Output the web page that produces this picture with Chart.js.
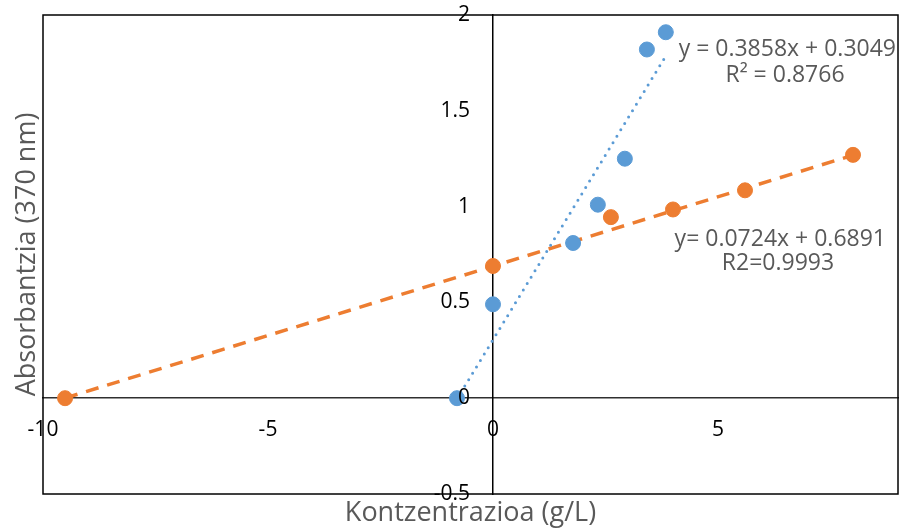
<!DOCTYPE html>
<html>
<head>
<meta charset="utf-8">
<title>Absorbantzia</title>
<script src="https://cdn.jsdelivr.net/npm/chart.js@4/dist/chart.umd.min.js"></script>
<style>
  html, body { margin: 0; padding: 0; background: #ffffff; overflow: hidden; }
  #wrap { width: 900px; height: 532px; position: relative; }
</style>
</head>
<body>
<div id="wrap"><canvas id="absorbanceChart"></canvas></div>
<script>
// Series data (concentration g/L vs absorbance at 370 nm)
const blueX = [-0.8, 0, 1.78, 2.33, 2.93, 3.42, 3.84];
const blueY = [0, 0.49, 0.81, 1.01, 1.25, 1.82, 1.91];
const orangeX = [-9.51, 0, 2.62, 4.0, 5.6, 8.0];
const orangeY = [0, 0.69, 0.945, 0.985, 1.085, 1.27];

// Trendline coefficients as printed on the chart
const blueFit = { slope: 0.3858, intercept: 0.3049 };
const orangeFit = { slope: 0.0724, intercept: 0.6891 };

const xTicks = [-10, -5, 0, 5];
const blueLabel = ['y = 0.3858x + 0.3049', 'R\u00b2 = 0.8766'];
const orangeLabel = ['y= 0.0724x + 0.6891', 'R2=0.9993'];
const xTitle = 'Kontzentrazioa (g/L)';
const yTitle = 'Absorbantzia (370 nm)';

const BLUE = '#5B9BD5';
const ORANGE = '#ED7D31';
const TEXT_GRAY = '#595959';
const FONT = '"Open Sans", "Noto Sans", sans-serif';
const PLOT_RIGHT = 898;
const Y_LABEL_GAP = 23;

function toPoints(xs, ys) {
  return xs.map((x, i) => ({ x: x, y: ys[i] }));
}

function trendPoints(xs, fit) {
  const lo = Math.min(...xs);
  const hi = Math.max(...xs);
  return [lo, hi].map(x => ({ x: x, y: fit.slope * x + fit.intercept }));
}

// Centered axes should not push the plot area inwards for their labels
function noScalePadding(scale) {
  scale.paddingTop = 0;
  scale.paddingBottom = 0;
  scale.paddingLeft = 0;
  scale.paddingRight = 0;
}

// Stretch the plot to the right edge; the layout keeps a few px free there
const stretchRight = {
  id: 'stretchRight',
  afterLayout(chart) {
    const area = chart.chartArea;
    area.right = PLOT_RIGHT;
    area.width = area.right - area.left;
    const x = chart.scales.x;
    x.right = PLOT_RIGHT;
    x.width = x.right - x.left;
    x.configure();
  }
};

// A y axis placed at x = 0 ignores tick padding, so move its labels left by hand
const yLabelGap = {
  id: 'yLabelGap',
  beforeDraw(chart) {
    const items = chart.scales.y.getLabelItems(chart.chartArea);
    if (items._shifted) return;
    items.forEach(item => { item.options.translation[0] -= Y_LABEL_GAP; });
    items._shifted = true;
  }
};

// Frame around the plot, axis titles and trendline equations
const decorations = {
  id: 'decorations',
  afterDraw(chart) {
    const { ctx, chartArea: a } = chart;
    ctx.save();
    ctx.strokeStyle = '#000000';
    ctx.lineWidth = 1.5;
    ctx.strokeRect(a.left, a.top, a.right - a.left, a.bottom - a.top);

    ctx.fillStyle = TEXT_GRAY;
    ctx.font = '27px ' + FONT;
    ctx.textAlign = 'center';
    ctx.textBaseline = 'middle';
    ctx.fillText(xTitle, (a.left + a.right) / 2, 513);

    ctx.save();
    ctx.translate(27, (a.top + a.bottom) / 2);
    ctx.rotate(-Math.PI / 2);
    ctx.fillText(yTitle, 0, 0);
    ctx.restore();

    ctx.font = '23px ' + FONT;
    ctx.textAlign = 'right';
    ctx.fillText(blueLabel[0], 896, 49);
    ctx.textAlign = 'center';
    ctx.fillText(blueLabel[1], 785, 75);
    ctx.textAlign = 'right';
    ctx.fillText(orangeLabel[0], 886, 239);
    ctx.textAlign = 'center';
    ctx.fillText(orangeLabel[1], 778, 263);
    ctx.restore();
  }
};

function createAbsorbanceChart() {
  const ctx = document.getElementById('absorbanceChart').getContext('2d');

  return new Chart(ctx, {
    type: 'scatter',
    data: {
      datasets: [
        {
          label: 'Serie 1',
          data: toPoints(blueX, blueY),
          backgroundColor: BLUE,
          borderColor: BLUE,
          pointRadius: 7.5,
          pointHoverRadius: 7.5,
          order: 0
        },
        {
          label: 'Serie 2',
          data: toPoints(orangeX, orangeY),
          backgroundColor: ORANGE,
          borderColor: ORANGE,
          pointRadius: 7.5,
          pointHoverRadius: 7.5,
          order: 0
        },
        {
          label: 'Joera 1',
          type: 'line',
          data: trendPoints(blueX, blueFit),
          borderColor: BLUE,
          borderWidth: 3,
          borderDash: [0, 7.5],
          borderCapStyle: 'round',
          pointRadius: 0,
          fill: false,
          order: 1
        },
        {
          label: 'Joera 2',
          type: 'line',
          data: trendPoints(orangeX, orangeFit),
          borderColor: ORANGE,
          borderWidth: 3.5,
          borderDash: [13, 9],
          pointRadius: 0,
          fill: false,
          order: 1
        }
      ]
    },
    options: {
      responsive: true,
      maintainAspectRatio: false,
      animation: false,
      layout: {
        padding: { left: 43, right: 2, top: 15, bottom: 38 }
      },
      scales: {
        x: {
          type: 'linear',
          position: { y: 0 },
          min: -10,
          max: 9,
          afterBuildTicks: scale => {
            scale.ticks = xTicks.map(v => ({ value: v }));
          },
          afterFit: noScalePadding,
          grid: { display: false, drawTicks: false },
          border: { display: true, color: '#303030', width: 1.5 },
          ticks: {
            color: '#000000',
            padding: 19,
            maxRotation: 0,
            font: { family: FONT, size: 21 },
            z: 1
          }
        },
        y: {
          type: 'linear',
          position: { x: 0 },
          min: -0.5,
          max: 2,
          afterFit: noScalePadding,
          grid: { display: false, drawTicks: false },
          border: { display: true, color: '#000000', width: 1.5 },
          ticks: {
            stepSize: 0.5,
            color: '#000000',
            font: { family: FONT, size: 21 },
            callback: value => String(value),
            z: 1
          }
        }
      },
      plugins: {
        legend: { display: false },
        tooltip: { enabled: false }
      }
    },
    plugins: [stretchRight, yLabelGap, decorations]
  });
}

document.addEventListener('DOMContentLoaded', () => {
  createAbsorbanceChart();
});
</script>
</body>
</html>
